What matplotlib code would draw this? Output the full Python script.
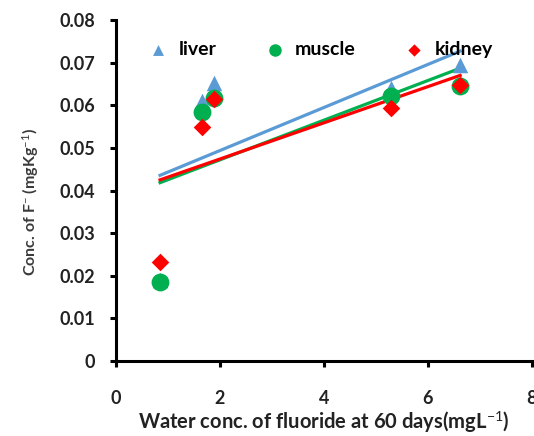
import numpy as np
import matplotlib.pyplot as plt

plt.rcParams['font.family'] = ['Lato', 'DejaVu Sans']
plt.rcParams['mathtext.fontset'] = 'custom'
plt.rcParams['mathtext.rm'] = 'Lato'
plt.rcParams['mathtext.it'] = 'Lato:italic'
plt.rcParams['mathtext.bf'] = 'Lato:bold'

# water concentration (mg/L) and tissue fluoride (mg/kg)
water_x = [0.85, 1.65, 1.88, 5.3, 6.62]
liver = [0.019, 0.061, 0.0652, 0.064, 0.0695]
muscle = [0.0185, 0.0584, 0.0617, 0.0622, 0.0645]
kidney = [0.0232, 0.0549, 0.0615, 0.0594, 0.0647]

series = [
    ('liver', liver, '^', '#5B9BD5', '#5B9BD5', 125),
    ('muscle', muscle, 'o', '#00B050', '#00B050', 165),
    ('kidney', kidney, 'D', '#FF0000', '#FF0000', 80),
]

fig = plt.figure(figsize=(5.34, 4.36), dpi=100)
ax = fig.add_axes([0.217, 0.172, 0.779, 0.782])

x = np.array(water_x)
for name, vals, mk, mcol, lcol, size in series:
    ax.scatter(x, vals, marker=mk, s=size, color=mcol, label=name, zorder=3,
               linewidths=0)

# linear trendlines
xs = np.array([x.min(), x.max()])
for name, vals, mk, mcol, lcol, size in series:
    k, b = np.polyfit(x, vals, 1)
    ax.plot(xs, k * xs + b, color=lcol, lw=2.3, zorder=2)

ax.set_xlim(0, 8)
ax.set_ylim(0, 0.08)
ax.set_xticks([0, 2, 4, 6, 8])
ax.set_xticklabels(['0', '2', '4', '6', '8'])
ax.set_yticks(np.arange(0, 0.081, 0.01))
ax.set_yticklabels(['0', '0.01', '0.02', '0.03', '0.04', '0.05', '0.06', '0.07', '0.08'])

for s in ['top', 'right']:
    ax.spines[s].set_visible(False)
for s in ['left', 'bottom']:
    ax.spines[s].set_linewidth(2.2)
ax.tick_params(axis='both', direction='out', length=4, width=2.2,
               labelsize=13, colors='black')
ax.yaxis.set_tick_params(pad=11)
ax.xaxis.set_tick_params(pad=17)
for lab in ax.get_xticklabels() + ax.get_yticklabels():
    lab.set_fontweight('bold')
    lab.set_color('#222222')

ax.set_xlabel('Water conc. of fluoride at 60 days(mgL$^{-1}$)', fontsize=14.5,
              fontweight='bold', color='#222222', labelpad=1)
ax.set_ylabel('Conc. of F$^{-}$ (mgKg$^{-1}$)', fontsize=11.5,
              fontweight='bold', color='#3a3a3a')
ax.yaxis.set_label_coords(-0.18, 0.465)

leg = ax.legend(loc='upper center', bbox_to_anchor=(0.48, 0.99), ncol=3,
                frameon=False, prop={'weight': 'bold', 'size': 14},
                handletextpad=0.05, columnspacing=2.0, markerscale=0.7)

fig.savefig('out.png', dpi=100)
